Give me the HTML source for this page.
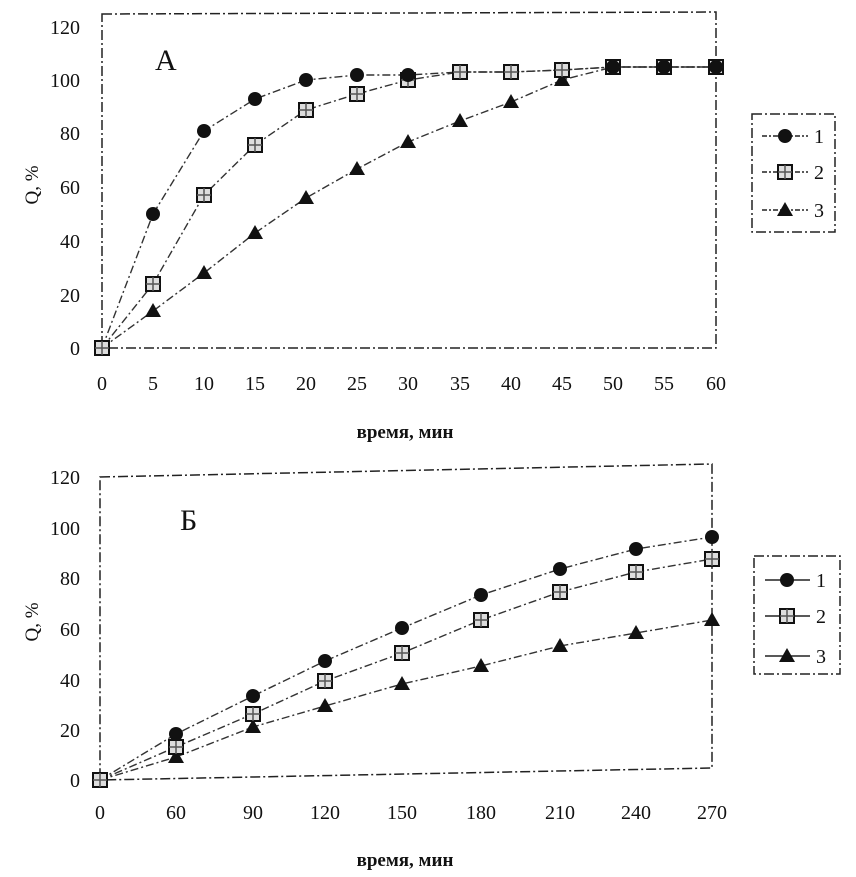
<!DOCTYPE html>
<html><head><meta charset="utf-8"><style>body{margin:0;background:#fff}svg{display:block}</style></head><body>
<svg width="856" height="877" viewBox="0 0 856 877" font-family="Liberation Serif, serif" fill="#111">
<defs>
<g id="c"><circle r="7" fill="#111"/></g>
<g id="s"><rect x="-7" y="-7" width="14" height="14" fill="#ddd" stroke="#111" stroke-width="2"/><path d="M-7 0H7M0-7V7" stroke="#555" stroke-width="1.5"/></g>
<g id="t"><path d="M0 -8L8 6H-8Z" fill="#111"/></g>
</defs>
<!-- Chart A -->
<g stroke="#222" stroke-width="1.5" fill="none" stroke-dasharray="10 3 2 3">
<path d="M102 14 L716 12 L716 348 L102 348 Z"/>
</g>
<g font-size="20" text-anchor="end">
<text x="80" y="34">120</text><text x="80" y="87">100</text><text x="80" y="140">80</text><text x="80" y="194">60</text><text x="80" y="248">40</text><text x="80" y="302">20</text><text x="80" y="355">0</text>
</g>
<g font-size="20" text-anchor="middle">
<text x="102" y="390">0</text><text x="153" y="390">5</text><text x="204" y="390">10</text><text x="255" y="390">15</text><text x="306" y="390">20</text><text x="357" y="390">25</text><text x="408" y="390">30</text><text x="460" y="390">35</text><text x="511" y="390">40</text><text x="562" y="390">45</text><text x="613" y="390">50</text><text x="664" y="390">55</text><text x="716" y="390">60</text>
</g>
<text x="405" y="438" font-size="19" font-weight="bold" text-anchor="middle">время, мин</text>
<text transform="translate(38,185) rotate(-90)" font-size="19" text-anchor="middle">Q, %</text>
<text x="155" y="70" font-size="30">А</text>
<g stroke="#333" stroke-width="1.4" fill="none" stroke-dasharray="8 3 2 3">
<polyline points="102,348 153,214 204,131 255,99 306,80 357,75 408,75 460,72 511,72 562,70 613,67 664,67 716,67"/>
<polyline points="102,348 153,284 204,195 255,145 306,110 357,94 408,80 460,72 511,72 562,70 613,67 664,67 716,67"/>
<polyline points="102,348 153,311 204,273 255,233 306,198 357,169 408,142 460,121 511,102 562,80 613,67 664,67 716,67"/>
</g>
<g>
<use href="#t" x="102" y="348"/><use href="#t" x="153" y="311"/><use href="#t" x="204" y="273"/><use href="#t" x="255" y="233"/><use href="#t" x="306" y="198"/><use href="#t" x="357" y="169"/><use href="#t" x="408" y="142"/><use href="#t" x="460" y="121"/><use href="#t" x="511" y="102"/><use href="#t" x="562" y="80"/><use href="#t" x="613" y="67"/><use href="#t" x="664" y="67"/><use href="#t" x="716" y="67"/>
<use href="#s" x="102" y="348"/><use href="#s" x="153" y="284"/><use href="#s" x="204" y="195"/><use href="#s" x="255" y="145"/><use href="#s" x="306" y="110"/><use href="#s" x="357" y="94"/><use href="#s" x="408" y="80"/><use href="#s" x="460" y="72"/><use href="#s" x="511" y="72"/><use href="#s" x="562" y="70"/><use href="#s" x="613" y="67"/><use href="#s" x="664" y="67"/><use href="#s" x="716" y="67"/>
<use href="#c" x="153" y="214"/><use href="#c" x="204" y="131"/><use href="#c" x="255" y="99"/><use href="#c" x="306" y="80"/><use href="#c" x="357" y="75"/><use href="#c" x="408" y="75"/><use href="#c" x="613" y="67"/><use href="#c" x="664" y="67"/><use href="#c" x="716" y="67"/>
</g>
<rect x="752" y="114" width="83" height="118" fill="none" stroke="#222" stroke-width="1.5" stroke-dasharray="10 3 2 3"/>
<g stroke="#222" stroke-width="1.4" stroke-dasharray="5 2 2 2"><path d="M762 136H808M762 172H808M762 210H808"/></g>
<use href="#c" x="785" y="136"/><use href="#s" x="785" y="172"/><use href="#t" x="785" y="210"/>
<g font-size="20"><text x="814" y="143">1</text><text x="814" y="179">2</text><text x="814" y="217">3</text></g>

<!-- Chart B -->
<g stroke="#222" stroke-width="1.5" fill="none" stroke-dasharray="10 3 2 3">
<path d="M100 477 L712 464 L712 768 L100 780 Z"/>
</g>
<g font-size="20" text-anchor="end">
<text x="80" y="484">120</text><text x="80" y="535">100</text><text x="80" y="585">80</text><text x="80" y="636">60</text><text x="80" y="687">40</text><text x="80" y="737">20</text><text x="80" y="787">0</text>
</g>
<g font-size="20" text-anchor="middle">
<text x="100" y="819">0</text><text x="176" y="819">60</text><text x="253" y="819">90</text><text x="325" y="819">120</text><text x="402" y="819">150</text><text x="481" y="819">180</text><text x="560" y="819">210</text><text x="636" y="819">240</text><text x="712" y="819">270</text>
</g>
<text x="405" y="866" font-size="19" font-weight="bold" text-anchor="middle">время, мин</text>
<text transform="translate(38,622) rotate(-90)" font-size="19" text-anchor="middle">Q, %</text>
<text x="180" y="530" font-size="30">Б</text>
<g stroke="#333" stroke-width="1.4" fill="none" stroke-dasharray="8 3 2 3">
<polyline points="100,780 176,734 253,696 325,661 402,628 481,595 560,569 636,549 712,537"/>
<polyline points="100,780 176,747 253,714 325,681 402,653 481,620 560,592 636,572 712,559"/>
<polyline points="100,780 176,757 253,727 325,706 402,684 481,666 560,646 636,633 712,620"/>
</g>
<g>
<use href="#t" x="100" y="780"/><use href="#t" x="176" y="757"/><use href="#t" x="253" y="727"/><use href="#t" x="325" y="706"/><use href="#t" x="402" y="684"/><use href="#t" x="481" y="666"/><use href="#t" x="560" y="646"/><use href="#t" x="636" y="633"/><use href="#t" x="712" y="620"/>
<use href="#s" x="100" y="780"/><use href="#s" x="176" y="747"/><use href="#s" x="253" y="714"/><use href="#s" x="325" y="681"/><use href="#s" x="402" y="653"/><use href="#s" x="481" y="620"/><use href="#s" x="560" y="592"/><use href="#s" x="636" y="572"/><use href="#s" x="712" y="559"/>
<use href="#c" x="176" y="734"/><use href="#c" x="253" y="696"/><use href="#c" x="325" y="661"/><use href="#c" x="402" y="628"/><use href="#c" x="481" y="595"/><use href="#c" x="560" y="569"/><use href="#c" x="636" y="549"/><use href="#c" x="712" y="537"/>
</g>
<rect x="754" y="556" width="86" height="118" fill="none" stroke="#222" stroke-width="1.5" stroke-dasharray="10 3 2 3"/>
<g stroke="#222" stroke-width="1.4"><path d="M765 580H810M765 616H810M765 656H810"/></g>
<use href="#c" x="787" y="580"/><use href="#s" x="787" y="616"/><use href="#t" x="787" y="656"/>
<g font-size="20"><text x="816" y="587">1</text><text x="816" y="623">2</text><text x="816" y="663">3</text></g>
</svg>
</body></html>
